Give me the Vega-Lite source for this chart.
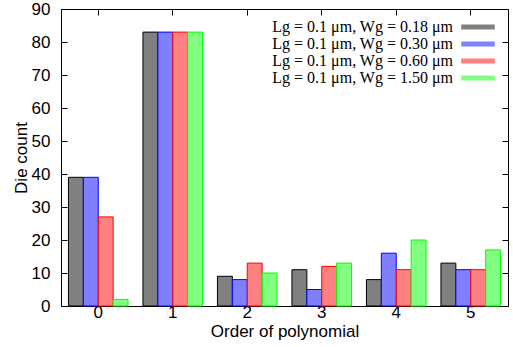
{
  "$schema": "https://vega.github.io/schema/vega-lite/v6.json",
  "width": 447,
  "height": 297,
  "autosize": "none",
  "padding": {"left": 61, "top": 9, "right": 5, "bottom": 41},
  "background": "white",
  "data": {
    "values": [
      {"order": "0", "series": "Lg = 0.1 μm, Wg = 0.18 μm", "count": 39},
      {"order": "0", "series": "Lg = 0.1 μm, Wg = 0.30 μm", "count": 39},
      {"order": "0", "series": "Lg = 0.1 μm, Wg = 0.60 μm", "count": 27},
      {"order": "0", "series": "Lg = 0.1 μm, Wg = 1.50 μm", "count": 2},
      {"order": "1", "series": "Lg = 0.1 μm, Wg = 0.18 μm", "count": 83},
      {"order": "1", "series": "Lg = 0.1 μm, Wg = 0.30 μm", "count": 83},
      {"order": "1", "series": "Lg = 0.1 μm, Wg = 0.60 μm", "count": 83},
      {"order": "1", "series": "Lg = 0.1 μm, Wg = 1.50 μm", "count": 83},
      {"order": "2", "series": "Lg = 0.1 μm, Wg = 0.18 μm", "count": 9},
      {"order": "2", "series": "Lg = 0.1 μm, Wg = 0.30 μm", "count": 8},
      {"order": "2", "series": "Lg = 0.1 μm, Wg = 0.60 μm", "count": 13},
      {"order": "2", "series": "Lg = 0.1 μm, Wg = 1.50 μm", "count": 10},
      {"order": "3", "series": "Lg = 0.1 μm, Wg = 0.18 μm", "count": 11},
      {"order": "3", "series": "Lg = 0.1 μm, Wg = 0.30 μm", "count": 5},
      {"order": "3", "series": "Lg = 0.1 μm, Wg = 0.60 μm", "count": 12},
      {"order": "3", "series": "Lg = 0.1 μm, Wg = 1.50 μm", "count": 13},
      {"order": "4", "series": "Lg = 0.1 μm, Wg = 0.18 μm", "count": 8},
      {"order": "4", "series": "Lg = 0.1 μm, Wg = 0.30 μm", "count": 16},
      {"order": "4", "series": "Lg = 0.1 μm, Wg = 0.60 μm", "count": 11},
      {"order": "4", "series": "Lg = 0.1 μm, Wg = 1.50 μm", "count": 20},
      {"order": "5", "series": "Lg = 0.1 μm, Wg = 0.18 μm", "count": 13},
      {"order": "5", "series": "Lg = 0.1 μm, Wg = 0.30 μm", "count": 11},
      {"order": "5", "series": "Lg = 0.1 μm, Wg = 0.60 μm", "count": 11},
      {"order": "5", "series": "Lg = 0.1 μm, Wg = 1.50 μm", "count": 17}
    ]
  },
  "config": {
    "view": {"stroke": "black", "strokeWidth": 1},
    "axis": {
      "grid": false,
      "domain": false,
      "tickColor": "black",
      "tickSize": -6,
      "labelFont": "Liberation Sans",
      "labelFontSize": 17,
      "labelColor": "black",
      "titleFont": "Liberation Sans",
      "titleFontSize": 17,
      "titleFontWeight": "normal",
      "titleColor": "black"
    }
  },
  "layer": [
    {
      "mark": {"type": "bar", "strokeWidth": 1},
      "encoding": {
        "x": {
          "field": "order",
          "type": "nominal",
          "scale": {"paddingInner": 0.2, "paddingOuter": 0.1},
          "axis": {"orient": "bottom", "title": "Order of polynomial", "labelAngle": 0, "labelPadding": 4, "titlePadding": 3}
        },
        "xOffset": {
          "field": "series",
          "type": "nominal",
          "sort": ["Lg = 0.1 μm, Wg = 0.18 μm", "Lg = 0.1 μm, Wg = 0.30 μm", "Lg = 0.1 μm, Wg = 0.60 μm", "Lg = 0.1 μm, Wg = 1.50 μm"]
        },
        "y": {
          "field": "count",
          "type": "quantitative",
          "scale": {"domain": [0, 90], "nice": false},
          "axis": {"orient": "left", "title": "Die count", "values": [0, 10, 20, 30, 40, 50, 60, 70, 80, 90], "labelPadding": 17, "titlePadding": 1}
        },
        "fill": {
          "field": "series",
          "type": "nominal",
          "sort": ["Lg = 0.1 μm, Wg = 0.18 μm", "Lg = 0.1 μm, Wg = 0.30 μm", "Lg = 0.1 μm, Wg = 0.60 μm", "Lg = 0.1 μm, Wg = 1.50 μm"],
          "scale": {"range": ["#808080", "#8080ff", "#ff8080", "#80ff80"]},
          "legend": {
            "title": null,
            "orient": "none",
            "legendX": 409,
            "legendY": 10,
            "labelFont": "Liberation Serif",
            "labelFontSize": 16,
            "labelColor": "black",
            "labelAlign": "right",
            "labelOffset": -33,
            "labelLimit": 400,
            "symbolType": "M-2.4,-0.35H2.4V0.35H-2.4Z",
            "symbolSize": 196,
            "symbolStrokeWidth": 1,
            "symbolOpacity": 1,
            "rowPadding": 1
          }
        },
        "stroke": {
          "field": "series",
          "type": "nominal",
          "sort": ["Lg = 0.1 μm, Wg = 0.18 μm", "Lg = 0.1 μm, Wg = 0.30 μm", "Lg = 0.1 μm, Wg = 0.60 μm", "Lg = 0.1 μm, Wg = 1.50 μm"],
          "scale": {"range": ["#000000", "#0000ff", "#ff0000", "#00ff00"]}
        }
      }
    },
    {
      "mark": {"type": "bar", "opacity": 0},
      "encoding": {
        "x": {
          "field": "order",
          "type": "nominal",
          "axis": {"orient": "top", "labels": false, "title": null}
        },
        "y": {
          "field": "count",
          "type": "quantitative",
          "axis": {"orient": "right", "labels": false, "title": null, "values": [0, 10, 20, 30, 40, 50, 60, 70, 80, 90]}
        }
      }
    }
  ],
  "resolve": {"axis": {"x": "independent", "y": "independent"}}
}
